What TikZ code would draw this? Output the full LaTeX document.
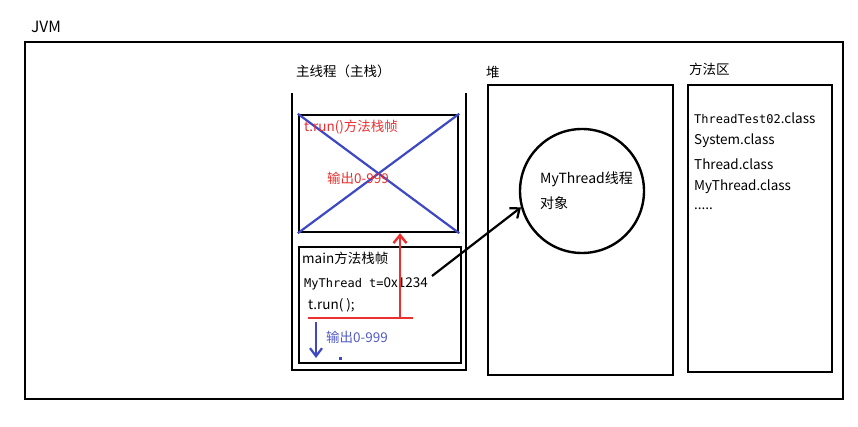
\documentclass[tikz,border=0pt]{standalone}
\usepackage{fontspec}
\setmainfont{Noto Sans CJK SC}
\newfontfamily\monof{DejaVu Sans Mono}
\usetikzlibrary{arrows.meta}
\definecolor{myred}{RGB}{236,48,48}
\definecolor{myblue}{RGB}{62,72,196}
\definecolor{bluetxt}{RGB}{84,92,200}
\begin{document}
\begin{tikzpicture}[x=1pt,y=-1pt,
  box/.style={draw=black, line width=2.4pt, inner sep=0pt},
  lbl/.style={anchor=west, inner sep=0pt, font=\fontsize{13.5}{15}\selectfont},
  biglbl/.style={anchor=west, inner sep=0pt, font=\fontsize{15.5}{17}\selectfont},
  redline/.style={draw=myred, line width=2.4pt},
  blueline/.style={draw=myblue, line width=2.2pt}]
\useasboundingbox (0,0) rectangle (858,427);
\fill[white] (0,0) rectangle (858,427);

% JVM outer box
\node[box, minimum width=818pt, minimum height=357pt] (jvm) at (434,220.5) {};
\node[biglbl] (jvmlbl) at (31,27) {JVM};

% main thread stack (open U shape)
\coordinate (stl) at (292,93);
\coordinate (sbl) at (292,370);
\coordinate (sbr) at (466,370);
\coordinate (str) at (466,93);
\draw[line width=2.4pt] (stl) -- (sbl) -- (sbr) -- (str);
\node[lbl] (stacklbl) at (296,71) {主线程（主栈）};

% t.run() frame
\node[box, minimum width=159pt, minimum height=117pt] (tframe) at (378.5,173.5) {};
\draw[blueline] (tframe.north west) -- (tframe.south east);
\draw[blueline] (tframe.north east) -- (tframe.south west);
\node[lbl, text=myred] (trunlbl) at (304,127) {t.run()方法栈帧};
\node[lbl, text=myred] (out1) at (327,178) {输出0-999};

% main frame
\node[box, minimum width=162pt, minimum height=116pt] (mframe) at (380,305) {};
\node[lbl] (mainlbl) at (302,258) {main方法栈帧};
\node[anchor=west, inner sep=0pt] (ref) at (304,284) {{\monof\fontsize{12}{14}\selectfont MyThread t=}{\fontsize{13.5}{15}\selectfont 0x1234}};
\node[lbl] (call) at (308,305) {t.run( );};
\node[lbl, text=bluetxt] (out2) at (326,337) {输出0-999};

% red call line and arrow
\coordinate (rl) at (308,318);
\coordinate (rr) at (413,318);
\coordinate (rb) at (400,318);
\draw[redline] (rl) -- (rr);
\draw[redline, -{Straight Barb[length=8pt, width=13pt, line width=2.4pt]}] (rb) -- (rb |- tframe.south);

% blue down arrow and dot
\coordinate (bt) at (316,322);
\coordinate (bb) at (316,358);
\draw[blueline, -{Straight Barb[length=8pt, width=12pt, line width=2.2pt]}] (bt) -- (bb);
\fill[myblue] (339,357) rectangle (342,360);

% heap
\node[box, minimum width=185pt, minimum height=290pt] (heap) at (580.5,230) {};
\node[lbl] (heaplbl) at (486,72) {堆};
\node[draw=black, line width=2.4pt, circle, minimum size=124pt, inner sep=0pt] (obj) at (582,191) {};
\node[lbl, font=\fontsize{14}{16}\selectfont] (objl1) at (540,179) {MyThread线程};
\node[lbl, font=\fontsize{14}{16}\selectfont] (objl2) at (540,203) {对象};

% reference arrow
\coordinate (refstart) at (432,276);
\draw[line width=2.2pt, -{Straight Barb[length=8pt, width=13pt, line width=2.2pt]}] (refstart) -- (obj.195);

% method area
\node[box, minimum width=144pt, minimum height=287pt] (marea) at (760,228.5) {};
\node[lbl] (marealbl) at (689,69) {方法区};
\node[anchor=west, inner sep=0pt] (c1) at (694,118) {{\monof\fontsize{12}{14}\selectfont ThreadTest02}{\fontsize{13.5}{15}\selectfont .class}};
\node[lbl] (c2) at (694,141) {System.class};
\node[lbl] (c3) at (694,164) {Thread.class};
\node[lbl] (c4) at (694,187) {MyThread.class};
\node[lbl] (c5) at (694,209) {.....};
\end{tikzpicture}
\end{document}
